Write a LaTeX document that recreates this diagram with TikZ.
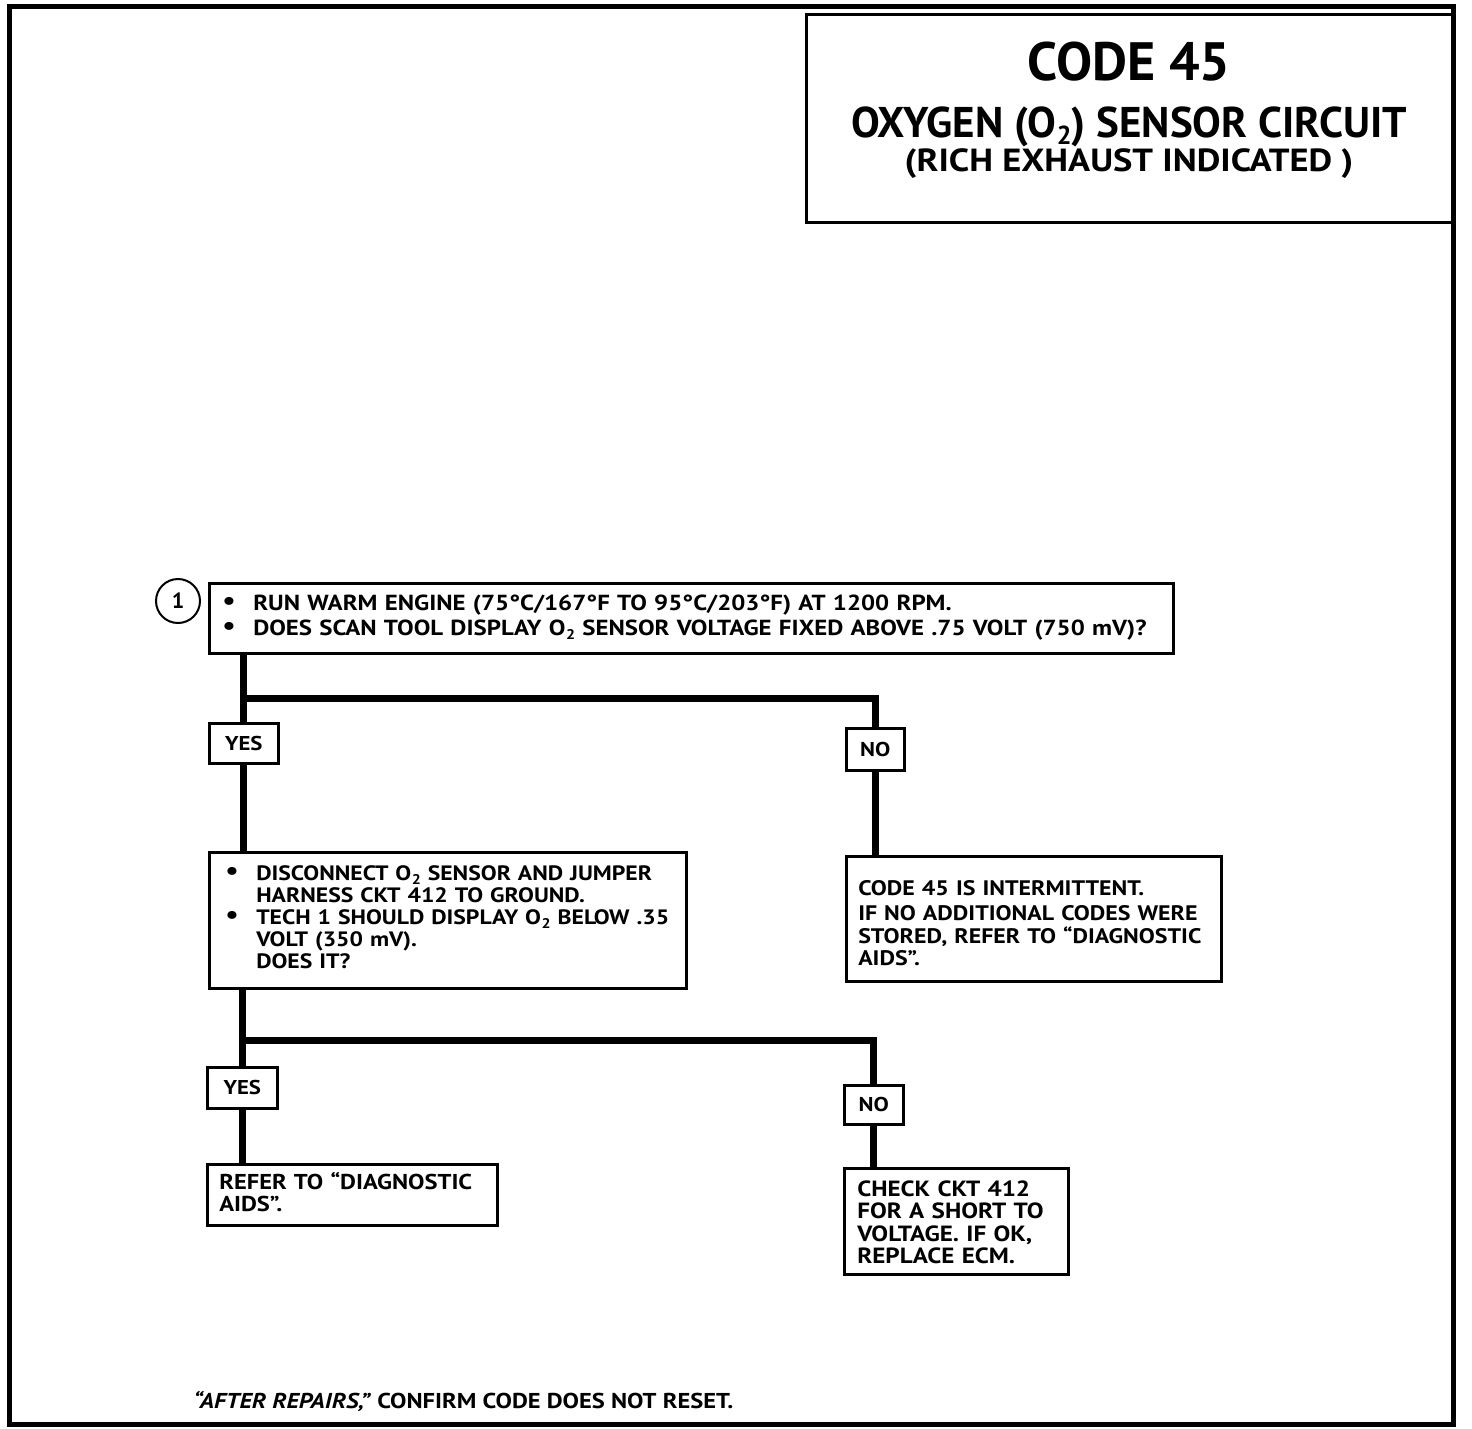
\documentclass[tikz,border=0pt]{standalone}
\usepackage{fontspec}
\setmainfont{PT Sans}
\newfontfamily\bodyfont[FakeStretch=1.14]{PT Sans}
\newcommand\Otwo{O\kern0.5pt\raisebox{-0.35ex}{\fontsize{14}{14}\selectfont 2}}
\newcommand\bul{\smash{\raisebox{0.1ex}{\fontsize{26}{26}\selectfont\textbullet}}}
\tikzset{
  box/.style={draw, line width=2.5pt, rectangle, inner ysep=0pt, anchor=north west, align=left, font=\bodyfont\bfseries\fontsize{22}{22}\selectfont},
  ansbox/.style={draw, line width=2.5pt, rectangle, inner sep=0pt, anchor=north west, font=\bodyfont\bfseries\fontsize{20}{20}\selectfont},
  conn/.style={line width=7pt},
}
\begin{document}
\begin{tikzpicture}[x=1pt,y=-1pt]
\useasboundingbox (0,0) rectangle (1472,1428);
% frame
\draw[line width=5pt] (9,6) rectangle (1453,1424);
\node[draw, line width=3pt, rectangle, anchor=north west, minimum width=648, minimum height=208, inner sep=0] (title) at (805,13) {};
\node[font=\bfseries\fontsize{54}{54}\selectfont] (t1) at (1129,62) {CODE 45};
\node[font=\bfseries\fontsize{43}{43}\selectfont] (t2) at (1129,127) {OXYGEN (O\kern0.5pt\raisebox{-0.3ex}{\fontsize{26}{26}\selectfont 2}) SENSOR CIRCUIT};
\node[font=\bodyfont\bfseries\fontsize{32}{32}\selectfont] (t3) at (1129,164) {(RICH EXHAUST INDICATED )};

% step 1
\node[draw, circle, line width=2pt, minimum size=44, inner sep=0, font=\bfseries\fontsize{22}{22}\selectfont] (c1) at (178,601) {1};
\node[box, minimum width=964, minimum height=70, inner xsep=13pt, text width=938, font=\bodyfont\bfseries\fontsize{21.8}{25}\selectfont] (b1) at (208,582)
 {\begin{tabular}{@{}p{31pt}@{}l@{}}
 \bul & RUN WARM ENGINE (75°C/167°F TO 95°C/203°F) AT 1200 RPM.\\
 \bul & DOES SCAN TOOL DISPLAY \Otwo\ SENSOR VOLTAGE FIXED ABOVE .75 VOLT (750 mV)?
 \end{tabular}};

\node[ansbox, minimum width=69, minimum height=40] (yes1) at (208,722) {YES};
\node[ansbox, minimum width=58, minimum height=42] (no1) at (845,727) {NO};

\node[box, minimum width=477, minimum height=136, inner xsep=16pt, text width=445, font=\bodyfont\bfseries\fontsize{20.8}{22}\selectfont] (b2) at (208,851)
 {\begin{tabular}{@{}p{31pt}@{}l@{}}
 \bul & DISCONNECT \Otwo\ SENSOR AND JUMPER\\
  & HARNESS CKT 412 TO GROUND.\\
 \bul & TECH 1 SHOULD DISPLAY \Otwo\ BELOW .35\\
  & VOLT (350 mV).\\
  & DOES IT?
 \end{tabular}};

\node[box, minimum width=375, minimum height=125, inner xsep=12pt, text width=351, font=\bodyfont\bfseries\fontsize{21}{22}\selectfont] (b3) at (845,855)
 {\begin{tabular}{@{}l@{}}
  \rule{0pt}{30pt}CODE 45 IS INTERMITTENT.\\[3pt]
  IF NO ADDITIONAL CODES WERE\\
  STORED, REFER TO “DIAGNOSTIC\\
  AIDS”.
 \end{tabular}};

\node[ansbox, minimum width=70, minimum height=41] (yes2) at (206,1066) {YES};
\node[ansbox, minimum width=59, minimum height=39] (no2) at (843,1084) {NO};

\node[box, minimum width=290, minimum height=61, inner xsep=12pt, text width=266, font=\bodyfont\bfseries\fontsize{21.5}{22}\selectfont] (b4) at (206,1163)
 {\begin{tabular}{@{}l@{}}
  REFER TO “DIAGNOSTIC\\
  AIDS”.
 \end{tabular}};
\node[box, minimum width=224, minimum height=106, inner xsep=13pt, text width=198] (b5) at (843,1167)
 {\begin{tabular}{@{}l@{}}
  \rule{0pt}{24pt}CHECK CKT 412\\
  FOR A SHORT TO\\
  VOLTAGE. IF OK,\\
  REPLACE ECM.
 \end{tabular}};

% connectors
\coordinate (j1) at (241,698);
\coordinate (j2) at (241,1040);
\draw[conn] (yes1.north |- b1.south) -- (yes1.north);
\draw[conn] (j1) -| (no1.north);
\draw[conn] (yes1.south) -- (yes1.south |- b2.north);
\draw[conn] (no1.south) -- (no1.south |- b3.north);
\draw[conn] (yes2.north |- b2.south) -- (yes2.north);
\draw[conn] (j2) -| (no2.north);
\draw[conn] (yes2.south) -- (yes2.south |- b4.north);
\draw[conn] (no2.south) -- (no2.south |- b5.north);

\node[anchor=west, font=\bodyfont\bfseries\fontsize{21.5}{22}\selectfont] (foot) at (190,1401) {\textit{“AFTER REPAIRS,”} CONFIRM CODE DOES NOT RESET.};
\end{tikzpicture}
\end{document}
